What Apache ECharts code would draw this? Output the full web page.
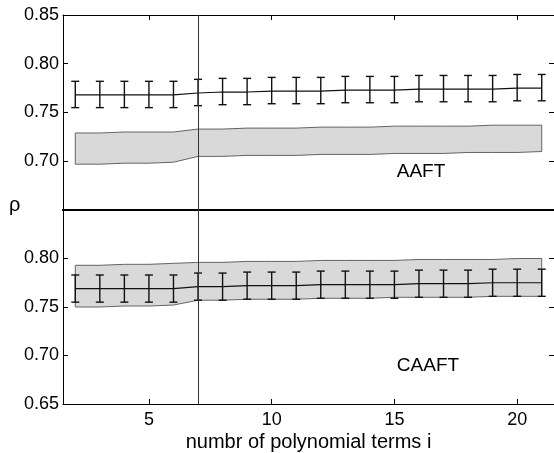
<!DOCTYPE html>
<html>
<head>
<meta charset="utf-8">
<script src="https://cdn.jsdelivr.net/npm/echarts@6/dist/echarts.min.js"></script>
<style>
  html, body { margin: 0; padding: 0; background: #fff; }
  #chart { width: 554px; height: 453px; }
</style>
</head>
<body>
<div id="chart"></div>
<script>
// number of polynomial terms
var terms = [2, 3, 4, 5, 6, 7, 8, 9, 10, 11, 12, 13, 14, 15, 16, 17, 18, 19, 20, 21];
var xTicks = [5, 10, 15, 20];

// AAFT panel: original data rho with error bars, surrogate band
var aaftMean = [0.768, 0.768, 0.768, 0.768, 0.768, 0.770, 0.771, 0.771, 0.772, 0.772, 0.772, 0.773, 0.773, 0.773, 0.774, 0.774, 0.774, 0.774, 0.775, 0.775];
var aaftErrLow = [0.755, 0.755, 0.755, 0.755, 0.755, 0.757, 0.758, 0.758, 0.759, 0.759, 0.759, 0.760, 0.760, 0.760, 0.761, 0.761, 0.761, 0.761, 0.762, 0.762];
var aaftErrHigh = [0.782, 0.782, 0.782, 0.782, 0.782, 0.784, 0.785, 0.785, 0.786, 0.786, 0.786, 0.787, 0.787, 0.787, 0.788, 0.788, 0.788, 0.788, 0.789, 0.789];
var aaftBandLow = [0.697, 0.697, 0.698, 0.698, 0.699, 0.705, 0.705, 0.706, 0.706, 0.706, 0.707, 0.707, 0.707, 0.708, 0.708, 0.708, 0.709, 0.709, 0.709, 0.710];
var aaftBandHigh = [0.729, 0.729, 0.730, 0.730, 0.730, 0.733, 0.733, 0.734, 0.734, 0.734, 0.735, 0.735, 0.735, 0.736, 0.736, 0.736, 0.736, 0.737, 0.737, 0.737];

// CAAFT panel
var caaftMean = [0.769, 0.769, 0.769, 0.769, 0.769, 0.771, 0.771, 0.772, 0.772, 0.772, 0.773, 0.773, 0.773, 0.773, 0.774, 0.774, 0.774, 0.775, 0.775, 0.775];
var caaftErrLow = [0.755, 0.755, 0.755, 0.755, 0.755, 0.757, 0.757, 0.758, 0.758, 0.758, 0.759, 0.759, 0.759, 0.759, 0.760, 0.760, 0.760, 0.761, 0.761, 0.761];
var caaftErrHigh = [0.783, 0.783, 0.783, 0.783, 0.783, 0.785, 0.785, 0.786, 0.786, 0.786, 0.787, 0.787, 0.787, 0.787, 0.788, 0.788, 0.788, 0.789, 0.789, 0.789];
var caaftBandLow = [0.750, 0.750, 0.751, 0.751, 0.752, 0.757, 0.757, 0.758, 0.758, 0.758, 0.759, 0.759, 0.759, 0.760, 0.760, 0.760, 0.760, 0.761, 0.761, 0.761];
var caaftBandHigh = [0.793, 0.793, 0.794, 0.794, 0.795, 0.796, 0.796, 0.797, 0.797, 0.797, 0.798, 0.798, 0.798, 0.798, 0.799, 0.799, 0.799, 0.799, 0.800, 0.800];

var cutLine = 7;

var font = 'Liberation Sans, Arial, Helvetica, sans-serif';

function zip3(a, b, c) {
  var out = [];
  for (var i = 0; i < a.length; i++) out.push([a[i], b[i], c[i]]);
  return out;
}

function zip2(a, b) {
  var out = [];
  for (var i = 0; i < a.length; i++) out.push([a[i], b[i]]);
  return out;
}

// error bar: vertical stroke with caps
function errorBar(params, api) {
  var x = api.value(0);
  var lo = api.coord([x, api.value(1)]);
  var hi = api.coord([x, api.value(2)]);
  var w = 4;
  var st = { stroke: '#111', lineWidth: 1.4 };
  return {
    type: 'group',
    children: [
      { type: 'line', shape: { x1: lo[0], y1: lo[1], x2: hi[0], y2: hi[1] }, style: st },
      { type: 'line', shape: { x1: lo[0] - w, y1: lo[1], x2: lo[0] + w, y2: lo[1] }, style: st },
      { type: 'line', shape: { x1: hi[0] - w, y1: hi[1], x2: hi[0] + w, y2: hi[1] }, style: st }
    ]
  };
}

// shaded band as one closed polygon
function bandMaker(low, high) {
  return function (params, api) {
    if (params.dataIndex !== 0) return null;
    var pts = [];
    for (var i = 0; i < terms.length; i++) pts.push(api.coord([terms[i], high[i]]));
    for (var j = terms.length - 1; j >= 0; j--) pts.push(api.coord([terms[j], low[j]]));
    return {
      type: 'polygon',
      shape: { points: pts },
      style: { fill: '#d9d9d9', stroke: '#555', lineWidth: 0.9 }
    };
  };
}

function xAxisDef(gridIndex, pos, opts) {
  return Object.assign({
    type: 'value',
    gridIndex: gridIndex,
    position: pos,
    min: 1.5,
    max: 21.5,
    axisLine: { show: true, onZero: false, lineStyle: { color: '#000', width: 1 } },
    axisTick: { show: true, inside: true, length: 5, customValues: xTicks, lineStyle: { color: '#000' } },
    axisLabel: { show: false },
    splitLine: { show: false }
  }, opts || {});
}

function yAxisDef(gridIndex, pos, labels, top) {
  return {
    type: 'value',
    gridIndex: gridIndex,
    position: pos,
    min: 0.65,
    max: 0.85,
    interval: 0.05,
    axisLine: { show: true, lineStyle: { color: '#000', width: 1 } },
    axisTick: { show: true, inside: true, length: 5, lineStyle: { color: '#000' } },
    axisLabel: {
      show: labels,
      showMinLabel: !top,
      showMaxLabel: top,
      margin: 4,
      color: '#000',
      fontFamily: font,
      fontSize: 18,
      formatter: function (v) { return v.toFixed(2); }
    },
    splitLine: { show: false }
  };
}

var cutMark = {
  silent: true,
  symbol: 'none',
  label: { show: false },
  lineStyle: { color: '#333', width: 1, type: 'solid' },
  data: [{ xAxis: cutLine }]
};

var chart = echarts.init(document.getElementById('chart'));
chart.setOption({
  animation: false,
  backgroundColor: '#fff',
  grid: [
    { left: 63, right: -2, top: 15, height: 195 },
    { left: 63, right: -2, top: 210, height: 194 }
  ],
  xAxis: [
    xAxisDef(0, 'top'),
    xAxisDef(0, 'bottom', { axisTick: { show: false }, axisLine: { show: true, onZero: false, lineStyle: { color: '#000', width: 2 } } }),
    xAxisDef(1, 'bottom', {
      name: 'numbr of polynomial terms i',
      nameLocation: 'middle',
      nameGap: 28,
      nameTextStyle: { fontFamily: font, fontSize: 20, color: '#000' },
      axisLabel: { show: true, customValues: xTicks, margin: 7, color: '#000', fontFamily: font, fontSize: 18 }
    }),
    xAxisDef(1, 'top', { axisTick: { show: false }, axisLine: { show: true, onZero: false, lineStyle: { color: '#000', width: 2 } } })
  ],
  yAxis: [
    yAxisDef(0, 'left', true, true),
    yAxisDef(0, 'right', false, true),
    yAxisDef(1, 'left', true, false),
    yAxisDef(1, 'right', false, false)
  ],
  series: [
    {
      type: 'custom', xAxisIndex: 0, yAxisIndex: 0, z: 1,
      renderItem: bandMaker(aaftBandLow, aaftBandHigh),
      data: zip3(terms, aaftBandLow, aaftBandHigh),
      encode: { x: 0, y: [1, 2] }
    },
    {
      type: 'custom', xAxisIndex: 0, yAxisIndex: 0, z: 3,
      renderItem: errorBar,
      data: zip3(terms, aaftErrLow, aaftErrHigh),
      encode: { x: 0, y: [1, 2] }
    },
    {
      type: 'line', xAxisIndex: 0, yAxisIndex: 0, z: 3,
      data: zip2(terms, aaftMean),
      showSymbol: false, symbol: 'none',
      lineStyle: { color: '#111', width: 1.2 },
      markLine: cutMark
    },
    {
      type: 'custom', xAxisIndex: 2, yAxisIndex: 2, z: 1,
      renderItem: bandMaker(caaftBandLow, caaftBandHigh),
      data: zip3(terms, caaftBandLow, caaftBandHigh),
      encode: { x: 0, y: [1, 2] }
    },
    {
      type: 'custom', xAxisIndex: 2, yAxisIndex: 2, z: 3,
      renderItem: errorBar,
      data: zip3(terms, caaftErrLow, caaftErrHigh),
      encode: { x: 0, y: [1, 2] }
    },
    {
      type: 'line', xAxisIndex: 2, yAxisIndex: 2, z: 3,
      data: zip2(terms, caaftMean),
      showSymbol: false, symbol: 'none',
      lineStyle: { color: '#111', width: 1.2 },
      markLine: cutMark
    }
  ],
  graphic: [
    { type: 'text', left: 9, top: 195, style: { text: 'ρ', fontFamily: font, fontSize: 20, fill: '#000' } },
    { type: 'text', x: 421, y: 172, style: { text: 'AAFT', fontFamily: font, fontSize: 19, fill: '#000', align: 'center', verticalAlign: 'middle' } },
    { type: 'text', x: 428, y: 366, style: { text: 'CAAFT', fontFamily: font, fontSize: 19, fill: '#000', align: 'center', verticalAlign: 'middle' } }
  ]
});
</script>
</body>
</html>
